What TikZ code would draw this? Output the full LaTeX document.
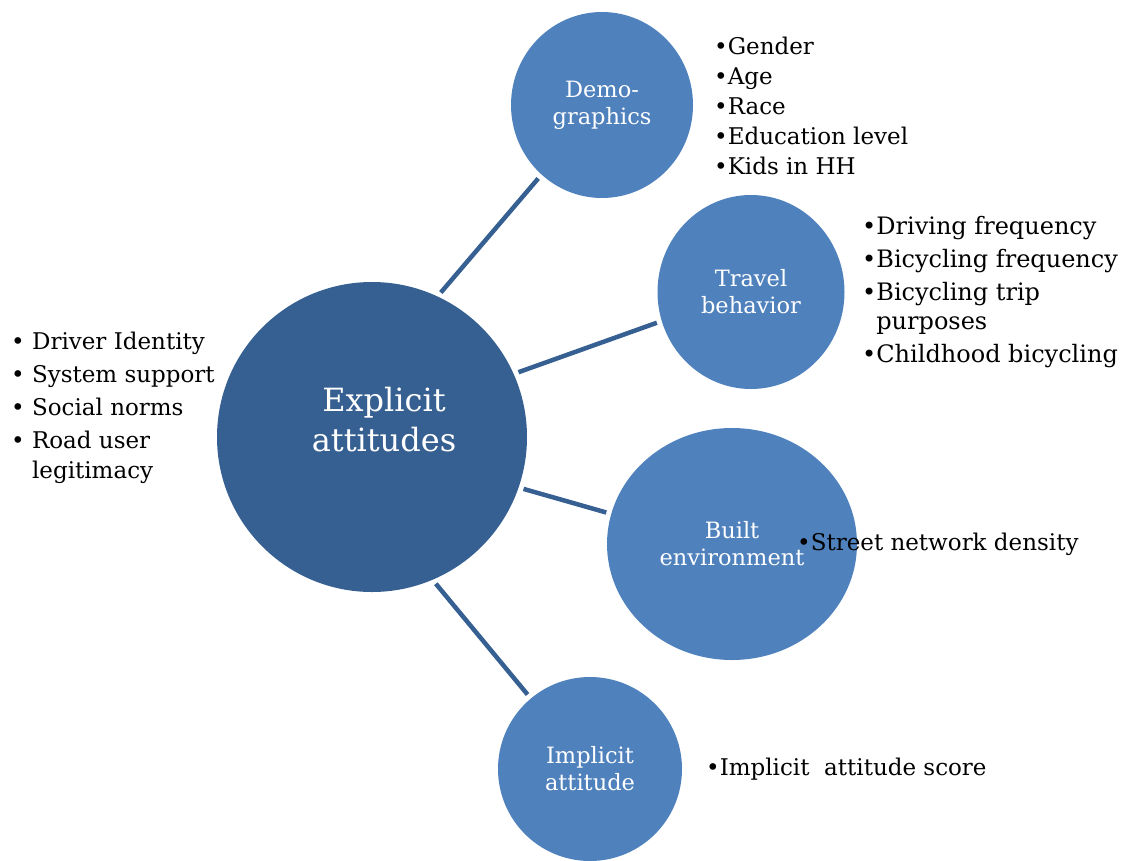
\documentclass[tikz,border=0pt]{standalone}
\usepackage{fontspec}
\setmainfont{DejaVu Serif}
\usepackage{xcolor}
\usepackage{tikz}
\usetikzlibrary{shapes.geometric, positioning}
\definecolor{darkblue}{HTML}{376092}
\definecolor{midblue}{HTML}{4F81BD}
\tikzstyle{hub} = [ellipse, inner sep=0pt, minimum width=310, minimum height=310, fill=darkblue]
\tikzstyle{hubtext} = [text=white, align=center, font=\fontsize{32}{40}\selectfont]
\tikzstyle{factor} = [ellipse, inner sep=0pt, fill=midblue, text=white, align=center, font=\fontsize{22.5}{27}\selectfont]
\tikzstyle{items} = [anchor=west, align=left, inner sep=0pt, font=\fontsize{23}{30}\selectfont]
\tikzstyle{link} = [line width=4.5pt, draw=darkblue, shorten <=5pt, shorten >=5pt]

\begin{document}
\begin{tikzpicture}[x=1pt, y=-1pt]
    \useasboundingbox (0,0) rectangle (1130,860);

    \node (expl)  [hub] at (372,437) {};
    \node (explt) [hubtext] at (384,420) {Explicit\\attitudes};
    \node (demo)  [factor, minimum width=182, minimum height=186] at (602,105) {Demo-\\graphics};
    \node (trav)  [factor, minimum width=187, minimum height=194] at (751,292) {Travel\\behavior};
    \node (built) [factor, minimum width=250, minimum height=232] at (732,544) {Built\\environment};
    \node (impl)  [factor, minimum width=184, minimum height=184] at (590,769) {Implicit\\attitude};

    \node (explist)  [items] at (11,408) {\textbullet\ Driver Identity\\[3pt]\textbullet\ System support\\[3pt]\textbullet\ Social norms\\[3pt]\textbullet\ Road user\\\phantom{\textbullet\ }legitimacy};
    \node (demolist) [items] at (714,106) {\textbullet Gender\\\textbullet Age\\\textbullet Race\\\textbullet Education level\\\textbullet Kids in HH};
    \node (travlist) [items, font=\fontsize{24}{29}\selectfont] at (862,292) {\textbullet Driving frequency\\[4pt]\textbullet Bicycling frequency\\[4pt]\textbullet Bicycling trip\\\phantom{\textbullet}purposes\\[4pt]\textbullet Childhood bicycling};
    \node (builtlist)[items] at (797,544) {\textbullet Street network density};
    \node (impllist) [items] at (706,769) {\textbullet Implicit\ \ attitude score};

    \draw [link] (expl.65)  -- (demo.229);
    \draw [link] (expl.24)  -- (trav.198);
    \draw [link] (expl.-19) -- (built.166);
    \draw [link] (expl.-67) -- (impl.130);
\end{tikzpicture}
\end{document}
